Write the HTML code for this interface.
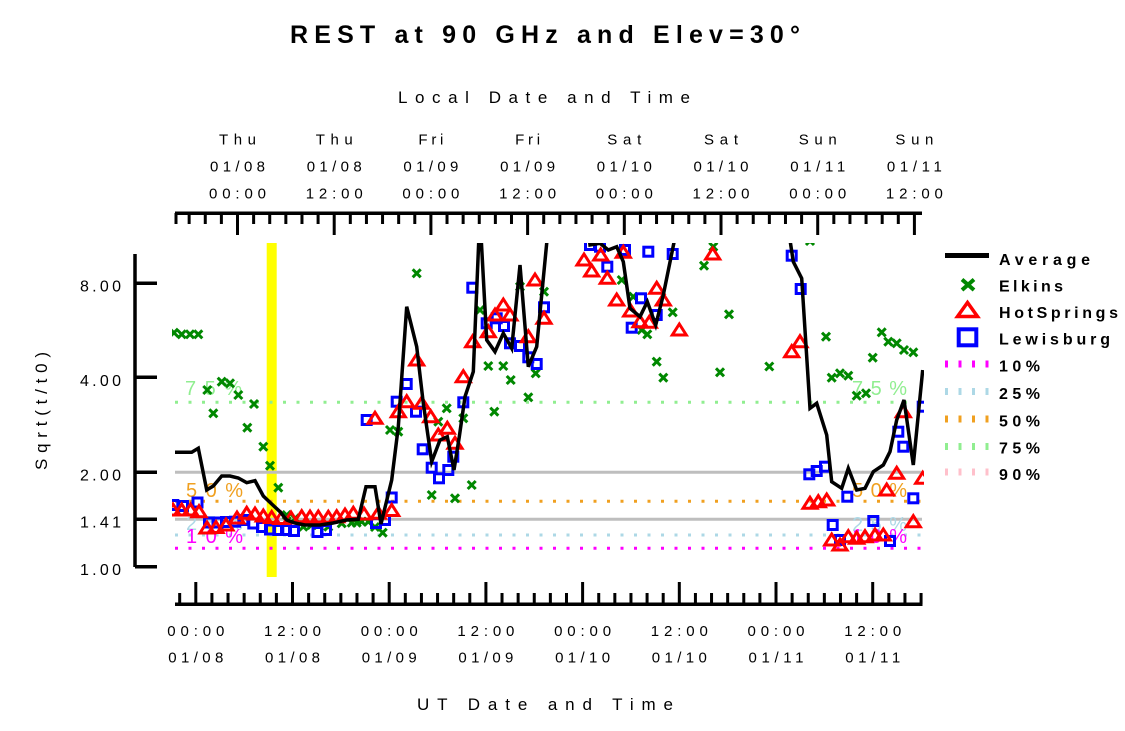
<!DOCTYPE html>
<html><head><meta charset="utf-8"><style>html,body{margin:0;padding:0;background:#fff;}svg{display:block}</style></head>
<body>
<svg xmlns="http://www.w3.org/2000/svg" width="1125" height="731" viewBox="0 0 1125 731" font-family="'Liberation Sans', sans-serif">
<defs>
<clipPath id="plot"><rect x="172" y="243" width="752" height="334"/></clipPath>
<path id="ex" d="M-4,-4L4,4M-4,4L4,-4" stroke="#008800" stroke-width="3" fill="none"/>
<polygon id="tr" points="0,-6 -7,5 7,5" stroke="#ff0000" stroke-width="3" fill="none"/>
<rect id="sq" x="-4.5" y="-4.5" width="9" height="9" stroke="#0000ff" stroke-width="3" fill="none"/>
</defs>
<rect width="1125" height="731" fill="#fff"/>

<!-- Title -->
<text x="290" y="43" font-size="25" font-weight="bold" textLength="510" lengthAdjust="spacing">REST at 90 GHz and Elev=30°</text>
<text x="398" y="103" font-size="17" textLength="292" lengthAdjust="spacing">Local Date and Time</text>
<text x="417" y="710" font-size="17" textLength="256" lengthAdjust="spacing">UT Date and Time</text>
<text transform="translate(47,470) rotate(-90)" font-size="17" textLength="118" lengthAdjust="spacing">Sqrt(t/t0)</text>

<!-- Top labels -->
<g font-size="15" text-anchor="middle">
<text x="237.5" y="144.5" textLength="37" lengthAdjust="spacing">Thu</text>
<text x="334.2" y="144.5" textLength="37" lengthAdjust="spacing">Thu</text>
<text x="430.9" y="144.5" textLength="25" lengthAdjust="spacing">Fri</text>
<text x="527.6" y="144.5" textLength="25" lengthAdjust="spacing">Fri</text>
<text x="624.3" y="144.5" textLength="34" lengthAdjust="spacing">Sat</text>
<text x="721.0" y="144.5" textLength="34" lengthAdjust="spacing">Sat</text>
<text x="817.7" y="144.5" textLength="38" lengthAdjust="spacing">Sun</text>
<text x="914.4" y="144.5" textLength="38" lengthAdjust="spacing">Sun</text>
<text x="237.5" y="171.5" textLength="55" lengthAdjust="spacing">01/08</text>
<text x="334.2" y="171.5" textLength="55" lengthAdjust="spacing">01/08</text>
<text x="430.9" y="171.5" textLength="55" lengthAdjust="spacing">01/09</text>
<text x="527.6" y="171.5" textLength="55" lengthAdjust="spacing">01/09</text>
<text x="624.3" y="171.5" textLength="55" lengthAdjust="spacing">01/10</text>
<text x="721.0" y="171.5" textLength="55" lengthAdjust="spacing">01/10</text>
<text x="817.7" y="171.5" textLength="55" lengthAdjust="spacing">01/11</text>
<text x="914.4" y="171.5" textLength="55" lengthAdjust="spacing">01/11</text>
<text x="237.5" y="198.5" textLength="57" lengthAdjust="spacing">00:00</text>
<text x="334.2" y="198.5" textLength="57" lengthAdjust="spacing">12:00</text>
<text x="430.9" y="198.5" textLength="57" lengthAdjust="spacing">00:00</text>
<text x="527.6" y="198.5" textLength="57" lengthAdjust="spacing">12:00</text>
<text x="624.3" y="198.5" textLength="57" lengthAdjust="spacing">00:00</text>
<text x="721.0" y="198.5" textLength="57" lengthAdjust="spacing">12:00</text>
<text x="817.7" y="198.5" textLength="57" lengthAdjust="spacing">00:00</text>
<text x="914.4" y="198.5" textLength="57" lengthAdjust="spacing">12:00</text>
</g>

<!-- Bottom labels -->
<g font-size="15" text-anchor="middle">
<text x="195.8" y="636" textLength="57" lengthAdjust="spacing">00:00</text>
<text x="292.5" y="636" textLength="57" lengthAdjust="spacing">12:00</text>
<text x="389.2" y="636" textLength="57" lengthAdjust="spacing">00:00</text>
<text x="485.9" y="636" textLength="57" lengthAdjust="spacing">12:00</text>
<text x="582.6" y="636" textLength="57" lengthAdjust="spacing">00:00</text>
<text x="679.3" y="636" textLength="57" lengthAdjust="spacing">12:00</text>
<text x="776.0" y="636" textLength="57" lengthAdjust="spacing">00:00</text>
<text x="872.7" y="636" textLength="57" lengthAdjust="spacing">12:00</text>
<text x="195.8" y="662.5" textLength="55" lengthAdjust="spacing">01/08</text>
<text x="292.5" y="662.5" textLength="55" lengthAdjust="spacing">01/08</text>
<text x="389.2" y="662.5" textLength="55" lengthAdjust="spacing">01/09</text>
<text x="485.9" y="662.5" textLength="55" lengthAdjust="spacing">01/09</text>
<text x="582.6" y="662.5" textLength="55" lengthAdjust="spacing">01/10</text>
<text x="679.3" y="662.5" textLength="55" lengthAdjust="spacing">01/10</text>
<text x="776.0" y="662.5" textLength="55" lengthAdjust="spacing">01/11</text>
<text x="872.7" y="662.5" textLength="55" lengthAdjust="spacing">01/11</text>
</g>

<!-- Y labels -->
<g font-size="16" text-anchor="end">
<text x="121" y="291.5" textLength="41" lengthAdjust="spacing">8.00</text>
<text x="121" y="386" textLength="41" lengthAdjust="spacing">4.00</text>
<text x="121" y="480.5" textLength="41" lengthAdjust="spacing">2.00</text>
<text x="121" y="527.5" textLength="41" lengthAdjust="spacing">1.41</text>
<text x="121" y="575" textLength="41" lengthAdjust="spacing">1.00</text>
</g>

<!-- Axes -->
<g stroke="#000" fill="none">
<path d="M135,254V567" stroke-width="3.5"/>
<path d="M135,283.3H157M135,377.3H157M135,472.3H157M135,519.2H157M135,566.7H157" stroke-width="3.5"/>
<path d="M175,213.3H922" stroke-width="3.5"/>
<path d="M175,604.3H922.5" stroke-width="3.5"/>
<path stroke-width="3" d="M176,213V224M189.15,213V224M205.27,213V224M221.38,213V224M237.5,213V235M253.62,213V224M269.73,213V224M285.85,213V224M301.97,213V224M318.09,213V224M334.2,213V235M350.32,213V224M366.44,213V224M382.55,213V224M398.67,213V224M414.79,213V224M430.9,213V235M447.02,213V224M463.14,213V224M479.26,213V224M495.37,213V224M511.49,213V224M527.61,213V235M543.72,213V224M559.84,213V224M575.96,213V224M592.07,213V224M608.19,213V224M624.31,213V235M640.43,213V224M656.54,213V224M672.66,213V224M688.78,213V224M704.89,213V224M721.01,213V235M737.13,213V224M753.24,213V224M769.36,213V224M785.48,213V224M801.6,213V224M817.71,213V235M833.83,213V224M849.95,213V224M866.06,213V224M882.18,213V224M898.3,213V224M914.41,213V235"/>
<path stroke-width="3" d="M179.68,604V593M195.8,604V582M211.92,604V593M228.03,604V593M244.15,604V593M260.27,604V593M276.39,604V593M292.5,604V582M308.62,604V593M324.74,604V593M340.85,604V593M356.97,604V593M373.09,604V593M389.2,604V582M405.32,604V593M421.44,604V593M437.56,604V593M453.67,604V593M469.79,604V593M485.91,604V582M502.02,604V593M518.14,604V593M534.26,604V593M550.37,604V593M566.49,604V593M582.61,604V582M598.73,604V593M614.84,604V593M630.96,604V593M647.08,604V593M663.19,604V593M679.31,604V582M695.43,604V593M711.54,604V593M727.66,604V593M743.78,604V593M759.9,604V593M776.01,604V582M792.13,604V593M808.25,604V593M824.36,604V593M840.48,604V593M856.6,604V593M872.71,604V582M888.83,604V593M904.95,604V593M921.07,604V593"/>
</g>

<!-- Yellow bar -->
<rect x="266.7" y="243" width="10" height="334" fill="#ffff00"/>

<!-- Reference lines -->
<path d="M175,472.3H922M175,519.3H922" stroke="#bebebe" stroke-width="3"/>
<g stroke-width="3" stroke-dasharray="3 10.5" fill="none">
<path d="M175,402.3H922" stroke="#90ee90"/>
<path d="M175,501.3H922" stroke="#f0a020"/>
<path d="M175,535H922" stroke="#add8e6"/>
<path d="M175,548.3H922" stroke="#ff00ff"/>
</g>

<!-- Percent labels -->
<g font-size="20">
<text x="185" y="395" fill="#90ee90" textLength="57" lengthAdjust="spacing">75%</text>
<text x="852" y="395" fill="#90ee90" textLength="55" lengthAdjust="spacing">75%</text>
<text x="186" y="497" fill="#f0a020" textLength="57" lengthAdjust="spacing">50%</text>
<text x="852" y="497" fill="#f0a020" textLength="55" lengthAdjust="spacing">50%</text>
<text x="186" y="530" fill="#add8e6" textLength="57" lengthAdjust="spacing">25%</text>
<text x="852" y="531" fill="#add8e6" textLength="55" lengthAdjust="spacing">25%</text>
<text x="186" y="543" fill="#ff00ff" textLength="57" lengthAdjust="spacing">10%</text>
<text x="852" y="543" fill="#ff00ff" textLength="55" lengthAdjust="spacing">10%</text>
</g>

<g clip-path="url(#plot)">
<!-- Elkins -->
<g>
<use href="#ex" x="174" y="332.7"/><use href="#ex" x="181.7" y="334.3"/><use href="#ex" x="190" y="334.3"/><use href="#ex" x="198.3" y="334.3"/>
<use href="#ex" x="207.3" y="390"/><use href="#ex" x="213.3" y="413.3"/><use href="#ex" x="221.7" y="381.7"/><use href="#ex" x="230" y="383.3"/>
<use href="#ex" x="238.3" y="395"/><use href="#ex" x="247.3" y="427.7"/><use href="#ex" x="254" y="404"/><use href="#ex" x="263.3" y="446.7"/>
<use href="#ex" x="270" y="465.7"/><use href="#ex" x="278.3" y="487.7"/><use href="#ex" x="286.7" y="515"/><use href="#ex" x="295" y="518.3"/>
<use href="#ex" x="303.3" y="526.7"/><use href="#ex" x="311.7" y="525"/><use href="#ex" x="318.3" y="525"/><use href="#ex" x="328.3" y="526.7"/>
<use href="#ex" x="341.7" y="523.3"/><use href="#ex" x="351.7" y="522.7"/><use href="#ex" x="356.7" y="522.7"/><use href="#ex" x="361.7" y="521.7"/>
<use href="#ex" x="368.3" y="521.7"/><use href="#ex" x="375" y="527"/><use href="#ex" x="382.7" y="532.7"/><use href="#ex" x="390" y="430"/>
<use href="#ex" x="398.3" y="431.7"/><use href="#ex" x="416.7" y="273.3"/><use href="#ex" x="431.7" y="495"/><use href="#ex" x="438.3" y="421.7"/>
<use href="#ex" x="446.7" y="408.3"/><use href="#ex" x="455" y="498.3"/><use href="#ex" x="463.3" y="418.3"/><use href="#ex" x="471.7" y="485"/>
<use href="#ex" x="480" y="310"/><use href="#ex" x="488.3" y="366"/><use href="#ex" x="494.3" y="411.7"/><use href="#ex" x="503.3" y="366"/>
<use href="#ex" x="510.7" y="380"/><use href="#ex" x="520" y="286.7"/><use href="#ex" x="528.3" y="397.3"/><use href="#ex" x="535.7" y="373.3"/>
<use href="#ex" x="544" y="291.7"/><use href="#ex" x="621.7" y="280"/><use href="#ex" x="633.3" y="296.7"/><use href="#ex" x="641.7" y="330"/>
<use href="#ex" x="647.3" y="334.3"/><use href="#ex" x="656.7" y="361.7"/><use href="#ex" x="663.3" y="377.7"/><use href="#ex" x="672.7" y="312.3"/>
<use href="#ex" x="704" y="265.7"/><use href="#ex" x="713.3" y="246.7"/><use href="#ex" x="720" y="372.3"/><use href="#ex" x="729" y="314.3"/>
<use href="#ex" x="769.3" y="366.5"/><use href="#ex" x="810" y="241"/><use href="#ex" x="826" y="336.7"/><use href="#ex" x="831.7" y="377.7"/>
<use href="#ex" x="840" y="373.3"/><use href="#ex" x="848.3" y="375.7"/><use href="#ex" x="856.7" y="395.7"/><use href="#ex" x="866" y="393.3"/>
<use href="#ex" x="872.7" y="357.7"/><use href="#ex" x="881.7" y="332.3"/><use href="#ex" x="888.3" y="341.7"/><use href="#ex" x="896.7" y="343.3"/>
<use href="#ex" x="904" y="350"/><use href="#ex" x="913.3" y="352.3"/>
</g>
<!-- Lewisburg -->
<g>
<use href="#sq" x="173.3" y="505"/><use href="#sq" x="183" y="506"/><use href="#sq" x="197.5" y="502.5"/><use href="#sq" x="209" y="522.5"/>
<use href="#sq" x="217.5" y="522.5"/><use href="#sq" x="226" y="522"/><use href="#sq" x="235" y="521.7"/><use href="#sq" x="243.3" y="520"/>
<use href="#sq" x="253.3" y="523.5"/><use href="#sq" x="262" y="527"/><use href="#sq" x="270" y="529.5"/><use href="#sq" x="278.3" y="530"/>
<use href="#sq" x="286" y="530"/><use href="#sq" x="294" y="531"/><use href="#sq" x="317.5" y="532"/><use href="#sq" x="326" y="530"/>
<use href="#sq" x="366.7" y="420"/><use href="#sq" x="376" y="523"/><use href="#sq" x="385" y="520"/><use href="#sq" x="391.7" y="497.5"/>
<use href="#sq" x="396.7" y="401.7"/><use href="#sq" x="406.7" y="384"/><use href="#sq" x="416" y="411.7"/><use href="#sq" x="422.7" y="449.3"/>
<use href="#sq" x="431.7" y="467.7"/><use href="#sq" x="439" y="478.3"/><use href="#sq" x="448.3" y="470"/><use href="#sq" x="453.3" y="456.7"/>
<use href="#sq" x="463.3" y="402.3"/><use href="#sq" x="472.3" y="287.7"/><use href="#sq" x="486.7" y="323.3"/><use href="#sq" x="496.7" y="318.3"/>
<use href="#sq" x="504" y="326"/><use href="#sq" x="510" y="343.3"/><use href="#sq" x="520" y="346"/><use href="#sq" x="528.3" y="357.3"/>
<use href="#sq" x="536.7" y="364"/><use href="#sq" x="544" y="307.3"/><use href="#sq" x="590" y="245"/><use href="#sq" x="600" y="246.7"/>
<use href="#sq" x="607.3" y="266.7"/><use href="#sq" x="625" y="250"/><use href="#sq" x="631.7" y="327.7"/><use href="#sq" x="641" y="298.3"/>
<use href="#sq" x="648.3" y="251.7"/><use href="#sq" x="656.7" y="315"/><use href="#sq" x="672.7" y="254"/><use href="#sq" x="791.7" y="255.7"/>
<use href="#sq" x="800.7" y="289"/><use href="#sq" x="809.3" y="474.3"/><use href="#sq" x="816.7" y="471"/><use href="#sq" x="825" y="466.7"/>
<use href="#sq" x="832.7" y="525"/><use href="#sq" x="840" y="540"/><use href="#sq" x="847.3" y="496.7"/><use href="#sq" x="873.3" y="521"/>
<use href="#sq" x="890" y="541"/><use href="#sq" x="898.3" y="431.7"/><use href="#sq" x="903.3" y="446.7"/><use href="#sq" x="913.3" y="498.3"/>
<use href="#sq" x="922.7" y="406.7"/>
</g>
<!-- HotSprings -->
<g>
<use href="#tr" x="173" y="510"/><use href="#tr" x="181.7" y="510"/><use href="#tr" x="190.5" y="510"/><use href="#tr" x="199" y="511.7"/>
<use href="#tr" x="207" y="528"/><use href="#tr" x="216" y="527.5"/><use href="#tr" x="226" y="525"/><use href="#tr" x="237" y="518"/>
<use href="#tr" x="246.7" y="513.3"/><use href="#tr" x="255" y="514"/><use href="#tr" x="263.3" y="516"/><use href="#tr" x="271.7" y="517.5"/>
<use href="#tr" x="281" y="518.5"/><use href="#tr" x="291" y="518"/><use href="#tr" x="301.7" y="516.7"/><use href="#tr" x="310" y="517"/>
<use href="#tr" x="318.3" y="517"/><use href="#tr" x="328.3" y="517.3"/><use href="#tr" x="336.7" y="516.7"/><use href="#tr" x="345" y="515"/>
<use href="#tr" x="353.3" y="513.3"/><use href="#tr" x="364" y="514"/><use href="#tr" x="375" y="418.3"/><use href="#tr" x="378.3" y="513.3"/>
<use href="#tr" x="391.7" y="510.5"/><use href="#tr" x="398.3" y="411.7"/><use href="#tr" x="406.7" y="401.7"/><use href="#tr" x="416.7" y="360"/>
<use href="#tr" x="421.7" y="403.3"/><use href="#tr" x="430.7" y="416.7"/><use href="#tr" x="438.3" y="435"/><use href="#tr" x="447.3" y="428.3"/>
<use href="#tr" x="455" y="443.3"/><use href="#tr" x="463.3" y="376.7"/><use href="#tr" x="472.7" y="341.7"/><use href="#tr" x="488.3" y="331.7"/>
<use href="#tr" x="495" y="315"/><use href="#tr" x="503.3" y="305"/><use href="#tr" x="510" y="315"/><use href="#tr" x="528.3" y="336.7"/>
<use href="#tr" x="535" y="280"/><use href="#tr" x="544" y="318.3"/><use href="#tr" x="584" y="260"/><use href="#tr" x="591.7" y="271"/>
<use href="#tr" x="600.7" y="255"/><use href="#tr" x="607.3" y="278.3"/><use href="#tr" x="616.7" y="300"/><use href="#tr" x="623.3" y="252.3"/>
<use href="#tr" x="630.7" y="311"/><use href="#tr" x="640" y="321.7"/><use href="#tr" x="649.3" y="322.3"/><use href="#tr" x="656.7" y="288.3"/>
<use href="#tr" x="663.3" y="300"/><use href="#tr" x="679.3" y="330"/><use href="#tr" x="712.7" y="254"/><use href="#tr" x="791.7" y="351.7"/>
<use href="#tr" x="800" y="341.7"/><use href="#tr" x="810" y="503.3"/><use href="#tr" x="818.3" y="501.7"/><use href="#tr" x="826.7" y="500"/>
<use href="#tr" x="831.7" y="540"/><use href="#tr" x="840" y="545"/><use href="#tr" x="848.3" y="536.7"/><use href="#tr" x="856.7" y="538.3"/>
<use href="#tr" x="865" y="536.7"/><use href="#tr" x="875" y="535"/><use href="#tr" x="883.3" y="535"/><use href="#tr" x="886.7" y="490"/>
<use href="#tr" x="896.7" y="473.3"/><use href="#tr" x="903.3" y="411.7"/><use href="#tr" x="913.3" y="521.7"/><use href="#tr" x="922.7" y="478.3"/>
</g>
<!-- Average -->
<polyline fill="none" stroke="#000" stroke-width="3.5" stroke-linejoin="miter" points="175,452.3 191.7,452.3 198.3,448.3 206.7,490 213.3,486 221.7,476 230,476 238.3,478 246.7,482.7 255,480.7 263.3,496 271.7,504 280,511.7 286.7,520 295,523 305,525 320,525 333,523 346.7,520 358.3,519.3 366,486.7 375,486.7 381,524 391.7,480 398.3,426.7 406.7,306.7 416.7,346.7 423.3,403.3 431.7,461.7 440,440 447.3,436.7 454,470 459.3,436.7 465,396.7 473.3,371.7 479,235 481,235 486.7,340 495,351.7 503.3,333.3 511.7,348.3 520,265 528.3,366.7 536.7,346.7 547.5,235 552,200 585,200 590,245 600,243.3 608.3,250 616.7,246.7 623.3,261.7 630,308.3 640,316.7 647.3,301.7 655.7,325 663.3,295 675.5,235 680,200 785,200 790,240 793.3,261.7 801.7,278.3 810,408.3 816.7,403.3 826.7,435 831.7,481.7 841.7,488.3 848.3,468.3 856.7,490 865,488.3 873.3,471.7 883.3,465 890,451.7 896.7,420 904,400 913.3,465 922.7,370"/>
</g>

<!-- Legend -->
<rect x="945" y="253" width="44" height="5" fill="#000"/>
<path d="M962,279.5L974,290M962,290L974,279.5" stroke="#008800" stroke-width="4" fill="none"/>
<polygon points="967.5,302.5 957.5,316.5 977.5,316.5" stroke="#ff0000" stroke-width="3.5" fill="none"/>
<rect x="958.7" y="329.3" width="17.6" height="16" stroke="#0000ff" stroke-width="4" fill="none"/>
<g>
<g fill="#ff00ff"><rect x="945" y="360.5" width="3" height="7"/><rect x="958.5" y="360.5" width="3" height="7"/><rect x="972" y="360.5" width="3" height="7"/><rect x="985.5" y="360.5" width="3" height="7"/></g>
<g fill="#add8e6"><rect x="945" y="388" width="3" height="7"/><rect x="958.5" y="388" width="3" height="7"/><rect x="972" y="388" width="3" height="7"/><rect x="985.5" y="388" width="3" height="7"/></g>
<g fill="#f0a020"><rect x="945" y="415.5" width="3" height="7"/><rect x="958.5" y="415.5" width="3" height="7"/><rect x="972" y="415.5" width="3" height="7"/><rect x="985.5" y="415.5" width="3" height="7"/></g>
<g fill="#90ee90"><rect x="945" y="443" width="3" height="7"/><rect x="958.5" y="443" width="3" height="7"/><rect x="972" y="443" width="3" height="7"/><rect x="985.5" y="443" width="3" height="7"/></g>
<g fill="#ffc0cb"><rect x="945" y="468.5" width="3" height="7"/><rect x="958.5" y="468.5" width="3" height="7"/><rect x="972" y="468.5" width="3" height="7"/><rect x="985.5" y="468.5" width="3" height="7"/></g>
</g>
<g font-size="16" font-weight="bold">
<text x="999" y="265" textLength="91" lengthAdjust="spacing">Average</text>
<text x="999" y="291.5" textLength="64" lengthAdjust="spacing">Elkins</text>
<text x="999" y="318" textLength="119" lengthAdjust="spacing">HotSprings</text>
<text x="999" y="344.5" textLength="111" lengthAdjust="spacing">Lewisburg</text>
<text x="999" y="371.5" textLength="41" lengthAdjust="spacing">10%</text>
<text x="999" y="399" textLength="41" lengthAdjust="spacing">25%</text>
<text x="999" y="426.5" textLength="41" lengthAdjust="spacing">50%</text>
<text x="999" y="453.5" textLength="41" lengthAdjust="spacing">75%</text>
<text x="999" y="480" textLength="41" lengthAdjust="spacing">90%</text>
</g>
</svg>
</body></html>
